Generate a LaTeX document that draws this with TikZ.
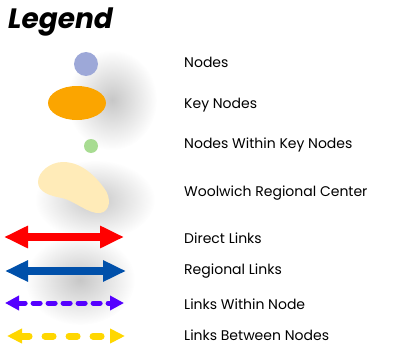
\documentclass[tikz,border=0pt]{standalone}
\usepackage{fontspec}
\setmainfont{Poppins}
\usepackage{tikz}
\usetikzlibrary{arrows.meta,fadings}

\definecolor{nodeblue}{HTML}{9DA8D8}
\definecolor{keyorange}{HTML}{FBA500}
\definecolor{withingreen}{HTML}{A8DC92}
\definecolor{woolyellow}{HTML}{FFEBB8}
\definecolor{directred}{HTML}{FF0000}
\definecolor{regionblue}{HTML}{0050AA}
\definecolor{withinpurple}{HTML}{5500FF}
\definecolor{betweenyellow}{HTML}{FFD700}

\tikzfading[name=softglow, inner color=transparent!0, outer color=transparent!100]

\tikzset{
  lbl/.style={anchor=west, inner sep=0pt, font=\fontsize{14}{16}\selectfont},
  glow/.style={fill=black, opacity=0.22, path fading=softglow},
}

\begin{document}
\begin{tikzpicture}[x=1pt,y=-1pt]
        \useasboundingbox (0,0) rectangle (393,345);

        % soft shadows behind the symbols
        \fill[glow] (112,100) ellipse (45 and 50);
        \fill[glow] (95,200) ellipse (60 and 40);
        \fill[glow] (80,280) ellipse (55 and 45);

        % title
        \node[anchor=west, inner sep=0pt, font=\fontsize{28}{30}\bfseries\itshape\selectfont] (title) at (8,22) {Legend};

        % symbols
        \fill[nodeblue] (86,64) circle (12);
        \fill[keyorange] (77,103) ellipse (29 and 17);
        \fill[withingreen] (91,146) circle (7);
        \fill[woolyellow] (63,162) .. controls (50,162) and (38,172) .. (38,182)
            .. controls (38,192) and (50,196) .. (62,198)
            .. controls (75,201) and (88,214) .. (100,213)
            .. controls (110,212) and (112,198) .. (104,188)
            .. controls (96,177) and (82,162) .. (63,162) -- cycle;

        % names of the symbols
        \node[lbl] (nodes) at (184,62) {Nodes};
        \node[lbl] (key) at (184,105) {Key Nodes};
        \node[lbl] (within) at (184,145) {Nodes Within Key Nodes};
        \node[lbl] (wool) at (184,193) {Woolwich Regional Center};
        \node[lbl] (direct) at (184,238) {Direct Links};
        \node[lbl] (regional) at (184,271) {Regional Links};
        \node[lbl] (inlinks) at (184,304) {Links Within Node};
        \node[lbl] (between) at (184,335.5) {Links Between Nodes};

        % ends of the link arrows
        \coordinate (d1) at (4,237);   \coordinate (d2) at (124,237);
        \coordinate (r1) at (5,271);   \coordinate (r2) at (126,271);
        \coordinate (w1) at (5,303);   \coordinate (w2) at (124,303);
        \coordinate (b1) at (7,336);   \coordinate (b2) at (125,336);

        % link arrows
        \draw[directred, line width=7.5pt, {Triangle[length=24pt,width=21pt]}-{Triangle[length=24pt,width=21pt]}] (d1) -- (d2);
        \draw[regionblue, line width=7.5pt, {Triangle[length=23pt,width=20pt]}-{Triangle[length=23pt,width=20pt]}] (r1) -- (r2);
        \draw[withinpurple, line width=5pt, line cap=round, dash pattern=on 7pt off 8pt, {Triangle[length=14pt,width=14pt]}-{Triangle[length=14pt,width=14pt]}] (w1) -- (w2);
        \draw[betweenyellow, line width=7pt, line cap=round, dash pattern=on 8pt off 16pt, {Triangle[length=15pt,width=14pt]}-{Triangle[length=15pt,width=14pt]}] (b1) -- (b2);
\end{tikzpicture}
\end{document}
